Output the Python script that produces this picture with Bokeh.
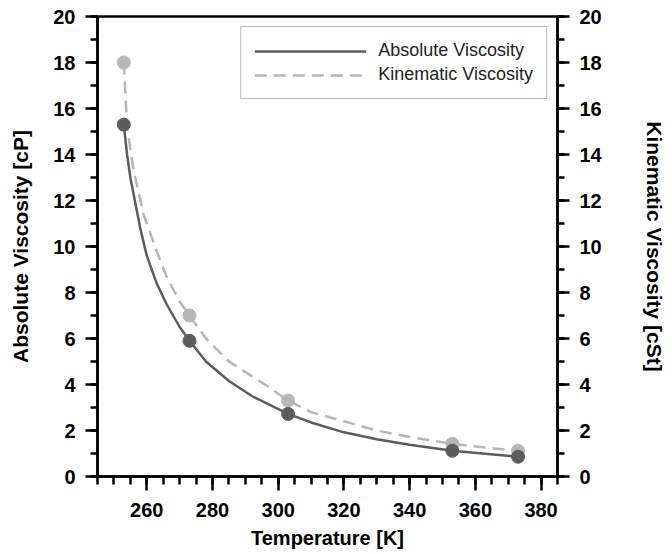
from bokeh.plotting import figure
from bokeh.models import Range1d, LinearAxis, SingleIntervalTicker, Legend, LegendItem
from bokeh.embed import file_html
from bokeh.resources import INLINE

# Measured data points (temperature in K)
temp_pts = [253, 273, 303, 353, 373]
abs_visc_pts = [15.3, 5.9, 2.72, 1.12, 0.86]      # cP
kin_visc_pts = [18.0, 7.0, 3.3, 1.42, 1.12]       # cSt

# Smooth fitted curves
abs_curve_t = [253, 254, 255, 258, 260, 263, 266, 270, 273, 278, 285, 292, 303, 310, 320, 330, 340, 353, 363, 373]
abs_curve_v = [15.3, 14.0, 13.0, 10.8, 9.6, 8.4, 7.5, 6.5, 5.9, 5.0, 4.15, 3.5, 2.72, 2.35, 1.92, 1.62, 1.38, 1.12, 0.99, 0.86]
kin_curve_t = [253, 254, 256, 259, 263, 266, 270, 273, 278, 285, 297, 303, 310, 320, 330, 340, 353, 363, 373]
kin_curve_v = [18.0, 15.2, 13.3, 11.4, 9.8, 8.7, 7.6, 7.0, 6.0, 5.0, 3.9, 3.3, 2.8, 2.4, 2.0, 1.72, 1.42, 1.26, 1.12]

x_title = "Temperature [K]"
y_title = "Absolute Viscosity [cP]"
y2_title = "Kinematic Viscosity [cSt]"
legend_labels = ["Absolute Viscosity", "Kinematic Viscosity"]

DARK = "#5c5c5c"
LIGHT = "#b6b6b6"
FONT = "Liberation Sans"

p = figure(width=672, height=554, output_backend="svg", toolbar_location=None,
           x_range=Range1d(245, 385), y_range=Range1d(0, 20),
           min_border_left=97, min_border_right=115, min_border_top=16, min_border_bottom=78)
p.extra_y_ranges = {"kin": Range1d(0, 20)}
p.grid.visible = False
p.outline_line_color = "black"
p.outline_line_width = 2.5
p.background_fill_color = "white"
p.border_fill_color = "white"

def style_axis(ax, major_out, minor_out, title_size="20px"):
    ax.axis_line_width = 2.5
    ax.axis_line_color = "black"
    ax.major_tick_line_width = 2.5
    ax.minor_tick_line_width = 2.5
    ax.major_tick_in = 0
    ax.minor_tick_in = 0
    ax.major_tick_out = major_out
    ax.minor_tick_out = minor_out
    ax.major_label_text_font = FONT
    ax.major_label_text_font_style = "bold"
    ax.major_label_text_font_size = "20px"
    ax.major_label_text_color = "black"
    ax.axis_label_text_font = FONT
    ax.axis_label_text_font_style = "bold"
    ax.axis_label_text_font_size = title_size
    ax.axis_label_text_color = "black"

xa = p.xaxis[0]
xa.ticker = SingleIntervalTicker(interval=20, num_minor_ticks=4)
xa.axis_label = x_title
style_axis(xa, 14, 8)
xa.major_label_standoff = 12
xa.axis_label_standoff = 7

ya = p.yaxis[0]
ya.ticker = SingleIntervalTicker(interval=2, num_minor_ticks=2)
ya.axis_label = y_title
style_axis(ya, 12, 7, "21px")
ya.major_label_standoff = 10
ya.axis_label_standoff = 18

y2 = LinearAxis(y_range_name="kin", ticker=SingleIntervalTicker(interval=2, num_minor_ticks=2),
                axis_label=y2_title)
style_axis(y2, 12, 7, "21px")
y2.major_label_standoff = 10
y2.axis_label_standoff = 38
p.add_layout(y2, "right")

l_abs = p.line(abs_curve_t, abs_curve_v, line_color=DARK, line_width=2.5)
l_kin = p.line(kin_curve_t, kin_curve_v, line_color=LIGHT, line_width=2.5,
               line_dash="12 7", y_range_name="kin")
p.scatter(temp_pts, kin_visc_pts, size=13, fill_color=LIGHT, line_color=LIGHT, y_range_name="kin")
p.scatter(temp_pts, abs_visc_pts, size=13, fill_color=DARK, line_color=DARK)

legend = Legend(items=[LegendItem(label=legend_labels[0], renderers=[l_abs]),
                       LegendItem(label=legend_labels[1], renderers=[l_kin])],
                location="top_right")
legend.margin = 10
legend.padding = 13
legend.spacing = 3
legend.glyph_width = 112
legend.glyph_height = 20
legend.label_height = 20
legend.label_standoff = 12
legend.label_text_font = FONT
legend.label_text_font_size = "18px"
legend.label_text_color = "#222222"
legend.border_line_color = "#777777"
legend.border_line_width = 1.5
legend.background_fill_alpha = 1.0
p.add_layout(legend, "center")

open("out.html", "w").write(file_html(p, INLINE))
